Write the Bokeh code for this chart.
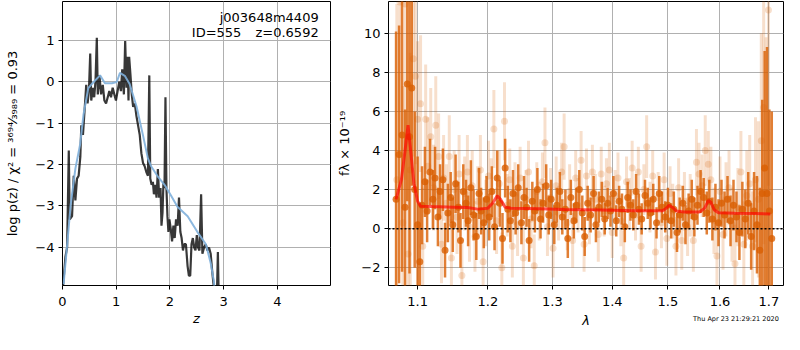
import numpy as np
from bokeh.plotting import figure
from bokeh.layouts import row
from bokeh.models import FixedTicker, Label, Span, ColumnDataSource, Range1d, LogAxis
from bokeh.embed import file_html
from bokeh.resources import INLINE

FONT = "DejaVu Sans"

# ---------------- left panel: log p(z) ----------------
pz_z = [0.012, 0.055, 0.086, 0.117, 0.135, 0.178, 0.209, 0.240, 0.270, 0.301,
        0.332, 0.350, 0.381, 0.412, 0.442, 0.467, 0.492, 0.516, 0.535, 0.565,
        0.590, 0.614, 0.639, 0.657, 0.688, 0.719, 0.750, 0.780, 0.811, 0.842,
        0.872, 0.903, 0.934, 0.965, 0.995, 1.026, 1.057, 1.088, 1.112, 1.143,
        1.167, 1.192, 1.210, 1.229, 1.241, 1.266, 1.290, 1.315, 1.346, 1.376,
        1.407, 1.438, 1.469, 1.499, 1.530, 1.561, 1.591, 1.616, 1.634, 1.659,
        1.683, 1.702, 1.727, 1.751, 1.776, 1.800, 1.825, 1.843, 1.862, 1.880,
        1.899, 1.917, 1.935, 1.954, 1.972, 1.991, 2.015, 2.040, 2.065, 2.089,
        2.114, 2.144, 2.169, 2.194, 2.218, 2.243, 2.267, 2.298, 2.329, 2.353,
        2.378, 2.402, 2.427, 2.452, 2.476, 2.501, 2.525, 2.550, 2.581, 2.605,
        2.636, 2.667, 2.697, 2.728, 2.759, 2.789, 2.814, 2.860, 2.893, 2.920]
pz_logp = [-4.92, -4.23, -4.01, -1.66, -3.33, -3.25, -2.27, -2.87, -2.34, -2.27,
           -1.81, -1.05, -1.28, -0.67, -0.07, -0.52, -0.22, 0.69, -0.45, -0.14,
           -0.37, 0.01, 1.07, -0.30, 0.16, -0.30, -0.07, -0.45, -0.52, -0.37,
           -0.22, -0.37, -0.14, -0.30, -0.45, -0.22, 0.01, -0.22, 0.31, -0.30,
           0.99, -0.14, 0.61, -0.45, 0.61, 0.16, -0.30, -0.60, -0.52, -0.82,
           -1.05, -1.28, -1.73, -1.96, -2.04, -2.18, -2.27, 0.16, -2.34, -2.49,
           -2.42, -2.72, -2.49, -2.80, -2.11, -2.80, -2.57, -3.48, -3.17, -2.42,
           -2.57, -0.37, -2.57, -3.25, -3.63, -3.33, -3.55, -3.86, -3.48, -3.78,
           -3.33, -3.48, -2.80, -3.63, -3.78, -4.08, -3.93, -3.93, -4.46, -4.69,
           -4.69, -3.93, -3.78, -4.01, -4.08, -3.71, -4.01, -4.08, -2.72, -4.16,
           -4.01, -3.93, -4.08, -4.01, -4.16, -4.61, -4.92, -6.00, -4.12, -6.00]

sm_z = [0.02, 0.09, 0.15, 0.24, 0.33, 0.39, 0.48, 0.58, 0.70, 0.79, 0.92, 1.01,
        1.07, 1.16, 1.25, 1.38, 1.50, 1.59, 1.65, 1.78, 1.90, 2.02, 2.14, 2.33,
        2.51, 2.67, 2.76, 2.82, 2.86]
sm_logp = [-4.9, -3.9, -3.0, -2.1, -1.5, -0.8, -0.15, 0.0, 0.16, -0.03, -0.03, 0.0,
           0.22, 0.15, -0.05, -0.6, -1.3, -1.85, -2.04, -2.3, -2.49, -2.75, -3.02, -3.25,
           -3.63, -3.93, -4.39, -4.84, -5.5]

left_xticks = [0, 1, 2, 3, 4]
left_yticks = [-4, -3, -2, -1, 0, 1]

title_name = "j003648m4409"
title_id = "ID=555"
title_z = "z=0.6592"

# ---------------- right panel: spectrum ----------------
wave_a = [1.071, 1.075, 1.079, 1.083, 1.086, 1.089, 1.092, 1.096, 1.100, 1.103,
          1.106, 1.110, 1.113, 1.117, 1.121, 1.124, 1.128, 1.131, 1.135, 1.138,
          1.142, 1.146, 1.149, 1.153, 1.157, 1.160, 1.164, 1.168, 1.171, 1.175,
          1.179, 1.183, 1.187, 1.190, 1.194, 1.198, 1.202, 1.206, 1.210, 1.214,
          1.218, 1.222, 1.226, 1.230, 1.234, 1.238, 1.242, 1.246, 1.251, 1.255,
          1.259, 1.263, 1.268, 1.272, 1.276, 1.281, 1.285, 1.290, 1.294, 1.298,
          1.303, 1.307, 1.312, 1.316, 1.321, 1.325, 1.330, 1.335, 1.339, 1.344,
          1.349, 1.353, 1.358, 1.363, 1.368, 1.372, 1.377, 1.382, 1.387, 1.392,
          1.397, 1.402, 1.407, 1.412, 1.417, 1.422, 1.427, 1.432, 1.437, 1.442,
          1.447, 1.452, 1.458, 1.463, 1.468, 1.473, 1.479, 1.484, 1.489, 1.495,
          1.500, 1.506, 1.511, 1.517, 1.522, 1.528, 1.533, 1.539, 1.545, 1.550,
          1.556, 1.562, 1.568, 1.574, 1.579, 1.585, 1.591, 1.597, 1.603, 1.609,
          1.615, 1.621, 1.627, 1.633, 1.639, 1.645, 1.651, 1.657, 1.663, 1.669,
          1.675, 1.681, 1.686, 1.691, 1.696, 1.701, 1.706]
flux_a = [1.5, 3.8, 4.8, 1.1, 7.4, 4.7, 7.2, 2.0, 0.2, -1.7,
          1.2, 2.4, 0.9, 2.9, 1.5, 2.6, 0.6, 1.9, 2.5, -1.1,
          0.8, 1.6, 0.2, 2.3, 1.1, -0.6, 1.9, 1.3, 0.4, 2.1,
          0.7, -0.4, 1.8, 0.9, 0.3, 1.5, 0.6, 1.9, 0.1, 2.6,
          1.3, -0.5, 3.1, 1.0, 0.4, 1.8, 0.8, 2.1, 0.3, 1.6,
          1.1, -0.6, 1.4, 0.9, 2.0, 0.5, 1.3, 2.2, 0.7, 1.5,
          0.2, 1.2, 1.9, 0.6, 1.0, -0.5, 1.6, 0.4, 1.2, 2.0,
          0.8, -0.4, 1.3, 0.7, 1.8, 0.2, 1.1, 1.5, 0.5, 1.3,
          0.9, 1.8, 0.4, 1.4, 1.0, 0.1, 1.6, 1.2, 0.7, 1.9,
          1.0, 0.5, 1.7, 1.3, 0.8, 1.5, 0.3, 1.8, 1.1, 0.6,
          1.2, 0.4, 1.0, -0.2, 0.7, 1.3, 0.2, 0.9, 1.5, 0.6,
          1.2, 1.9, 1.6, 0.8, 1.4, 0.5, 1.1, 0.3, 1.3, 0.7,
          1.5, 0.4, 1.2, 0.6, -0.2, 1.0, 0.5, 1.3, -0.4, 0.9,
          0.2, -1.1, 1.8, 3.1, 1.8, 0.9, -0.5]
err_a = [8.6, 6.6, 7.0, 5.0, 6.0, 7.0, 5.0, 4.0, 3.5, 3.0,
         2.0, 1.8, 1.6, 1.7, 1.5, 1.6, 1.5, 1.4, 1.6, 1.4,
         1.5, 1.3, 1.4, 1.5, 1.3, 1.4, 1.4, 1.2, 1.3, 1.4,
         1.3, 1.2, 1.3, 1.2, 1.3, 1.2, 1.2, 1.3, 1.2, 1.4,
         1.2, 1.3, 1.5, 1.2, 1.1, 1.2, 1.1, 1.2, 1.1, 1.1,
         1.0, 1.1, 1.0, 1.1, 1.1, 1.0, 1.0, 1.1, 1.0, 1.0,
         1.0, 0.9, 1.0, 0.9, 1.0, 1.0, 0.9, 0.9, 0.9, 1.0,
         0.9, 1.0, 0.9, 0.9, 0.9, 0.9, 0.8, 0.9, 0.8, 0.8,
         0.8, 0.9, 0.8, 0.8, 0.8, 0.8, 0.8, 0.8, 0.8, 0.9,
         0.8, 0.8, 0.8, 0.8, 0.8, 0.8, 0.8, 0.9, 0.8, 0.8,
         0.9, 0.9, 0.9, 1.0, 0.9, 0.9, 1.0, 0.9, 1.0, 1.0,
         1.0, 1.1, 1.0, 1.1, 1.1, 1.1, 1.2, 1.2, 1.2, 1.2,
         1.2, 1.3, 1.3, 1.3, 1.4, 1.4, 1.5, 1.6, 1.7, 2.0,
         2.5, 3.2, 4.8, 6.0, 7.5, 5.2, 6.5]

wave_b = [1.072, 1.076, 1.080, 1.083, 1.087, 1.090, 1.094, 1.097, 1.100, 1.104,
          1.107, 1.111, 1.114, 1.118, 1.122, 1.125, 1.129, 1.133, 1.136, 1.140,
          1.144, 1.147, 1.151, 1.155, 1.158, 1.162, 1.166, 1.170, 1.173, 1.177,
          1.181, 1.185, 1.189, 1.193, 1.197, 1.201, 1.205, 1.209, 1.213, 1.217,
          1.221, 1.225, 1.229, 1.233, 1.237, 1.241, 1.245, 1.249, 1.254, 1.258,
          1.262, 1.266, 1.271, 1.275, 1.279, 1.284, 1.288, 1.292, 1.297, 1.301,
          1.306, 1.310, 1.315, 1.319, 1.324, 1.328, 1.333, 1.338, 1.342, 1.347,
          1.352, 1.356, 1.361, 1.366, 1.371, 1.376, 1.381, 1.386, 1.390, 1.395,
          1.400, 1.405, 1.410, 1.415, 1.420, 1.425, 1.430, 1.435, 1.441, 1.446,
          1.451, 1.456, 1.461, 1.467, 1.472, 1.477, 1.482, 1.488, 1.493, 1.498,
          1.504, 1.509, 1.515, 1.520, 1.526, 1.531, 1.537, 1.542, 1.548, 1.554,
          1.559, 1.565, 1.571, 1.577, 1.582, 1.588, 1.594, 1.600, 1.606, 1.612,
          1.618, 1.624, 1.630, 1.636, 1.642, 1.648, 1.654, 1.660, 1.666, 1.672,
          1.678, 1.684, 1.689, 1.694, 1.699]
flux_b = [2.5, 11.6, 0.3, 11.5, -1.3, 3.0, 8.7, 7.8, 5.6, 6.4,
          -0.9, 5.6, 3.2, 4.7, 2.1, 5.3, 3.7, -0.8, 2.6, 1.3,
          3.7, -1.5, 2.0, 0.6, 2.8, -2.4, 1.8, 2.9, 0.1, 2.2,
          -0.4, 1.4, 3.0, -1.7, 0.8, 2.7, 1.9, 5.1, 0.4, 2.3,
          -2.0, 5.5, 1.2, 2.5, -0.9, 1.8, 0.2, 2.6, -1.5, 1.5,
          2.9, 0.5, -1.9, 1.9, 0.9, 2.4, 4.4, 0.1, 1.6, -1.0,
          2.2, 0.8, 2.9, 4.2, 0.3, 1.9, -0.6, 2.6, 1.2, 3.5,
          -0.8, 2.7, 0.6, 2.9, 1.5, -0.3, 2.8, 0.9, 2.3, 3.0,
          -0.2, 1.7, 2.6, 0.4, -1.5, 2.4, 1.3, 3.1, 0.7, 2.9,
          -0.9, 2.0, 4.2, 1.1, 2.7, -1.2, 1.6, 0.3, 2.5, -0.5,
          1.8, 0.9, -0.9, 2.1, -0.6, 1.4, 0.1, 1.2, -0.6, 3.4,
          2.8, 2.2, 4.0, 3.3, 2.5, 0.4, -1.4, 1.9, -0.3, 1.5,
          2.1, 0.2, -1.8, 1.1, 2.9, -0.8, 1.7, 2.3, -0.9, 2.5,
          1.5, 4.5, 6.2, 1.8, 11.2]
err_b = [9.0, 8.0, 7.0, 9.0, 6.0, 6.0, 5.0, 4.5, 4.0, 3.5,
         3.0, 2.8, 2.5, 2.5, 2.2, 2.5, 2.2, 2.0, 2.2, 2.0,
         2.1, 2.0, 2.0, 1.9, 2.0, 1.9, 1.9, 1.9, 1.8, 1.8,
         1.8, 1.8, 1.8, 1.8, 1.7, 1.8, 1.7, 2.0, 1.7, 1.7,
         1.8, 2.0, 1.6, 1.6, 1.6, 1.6, 1.6, 1.6, 1.6, 1.5,
         1.6, 1.5, 1.6, 1.5, 1.5, 1.5, 1.8, 1.5, 1.5, 1.5,
         1.5, 1.4, 1.5, 1.7, 1.4, 1.4, 1.4, 1.4, 1.4, 1.5,
         1.4, 1.4, 1.4, 1.4, 1.3, 1.4, 1.4, 1.3, 1.3, 1.4,
         1.3, 1.3, 1.3, 1.3, 1.4, 1.3, 1.3, 1.4, 1.3, 1.3,
         1.3, 1.3, 1.6, 1.3, 1.3, 1.4, 1.3, 1.3, 1.4, 1.4,
         1.4, 1.4, 1.5, 1.5, 1.5, 1.5, 1.5, 1.6, 1.6, 1.7,
         1.6, 1.6, 1.8, 1.7, 1.7, 1.7, 1.8, 1.8, 1.8, 1.9,
         1.9, 1.9, 2.0, 2.0, 2.1, 2.2, 2.3, 2.5, 2.8, 3.2,
         4.0, 5.5, 7.0, 8.0, 9.0]

model_wave = [1.071, 1.078, 1.083, 1.087, 1.090, 1.095, 1.100, 1.104, 1.120, 1.150,
              1.170, 1.185, 1.200, 1.207, 1.214, 1.219, 1.226, 1.235, 1.280, 1.320,
              1.380, 1.440, 1.490, 1.497, 1.502, 1.508, 1.516, 1.530, 1.560, 1.570,
              1.577, 1.582, 1.589, 1.597, 1.630, 1.670, 1.703]
model_flux = [1.5, 2.5, 4.0, 5.3, 4.2, 2.3, 1.4, 1.15, 1.13, 1.10,
              1.08, 1.00, 1.05, 1.30, 1.68, 1.50, 1.10, 1.05, 1.02, 0.98,
              0.95, 0.92, 0.92, 1.05, 1.20, 1.10, 0.90, 0.85, 0.85, 1.05,
              1.45, 1.35, 0.95, 0.82, 0.79, 0.77, 0.75]

right_xticks = [1.1, 1.2, 1.3, 1.4, 1.5, 1.6, 1.7]
right_yticks = [-2, 0, 2, 4, 6, 8, 10]
timestamp = "Thu Apr 23 21:29:21 2020"
TS_POS = 1.632   # horizontal anchor (centre) of the timestamp, in wavelength units

ORANGE = "#d95f02"


def style(p):
    p.outline_line_color = "black"
    p.outline_line_width = 1
    p.outline_line_alpha = 1
    p.background_fill_color = "white"
    p.border_fill_color = "white"
    for ax in p.axis:
        ax.axis_line_color = None
        ax.major_tick_in = 0
        ax.major_tick_out = 4
        ax.major_tick_line_color = "black"
        ax.minor_tick_line_color = None
        ax.major_label_text_font = FONT
        ax.major_label_text_font_size = "13px"
        ax.major_label_text_color = "black"
        ax.axis_label_text_font = FONT
        ax.axis_label_text_font_size = "13px"
        ax.axis_label_text_color = "black"
        ax.major_label_standoff = 4
    for g in p.grid:
        g.grid_line_color = "#b0b0b0"
        g.grid_line_width = 1
        g.grid_line_alpha = 1


def minus_labels(ticks, fmt):
    out = {}
    for t in ticks:
        s = fmt.format(t)
        out[t] = s.replace("-", "\u2212")
    return out


H = 330
BOTTOM = 44

# ---- left figure ----
p1 = figure(width=333, height=H, x_range=Range1d(0, 4.99), y_range=Range1d(-4.93, 1.95),
            output_backend="svg", toolbar_location=None,
            min_border_left=62, min_border_right=3, min_border_top=1, min_border_bottom=BOTTOM)
style(p1)
p1.xaxis.ticker = FixedTicker(ticks=left_xticks)
p1.yaxis.ticker = FixedTicker(ticks=left_yticks)
p1.xaxis.major_label_overrides = minus_labels(left_xticks, "{:d}")
p1.yaxis.major_label_overrides = minus_labels(left_yticks, "{:d}")
p1.xaxis.major_label_standoff = 7
p1.xaxis.axis_label = "z"
p1.xaxis.axis_label_text_font_style = "italic"
p1.xaxis.axis_label_standoff = 2
p1.yaxis.axis_label = "log p(z) / \u03c7\u00b2 = \u00b3\u2076\u2079\u2074\u2044\u2083\u2089\u2088\u2089 = 0.93"
p1.yaxis.axis_label_text_font_style = "normal"
p1.yaxis.axis_label_standoff = 12

p1.line(pz_z, pz_logp, line_color="black", line_alpha=0.78, line_width=2.2)
p1.line(sm_z, sm_logp, line_color="#7fb0db", line_alpha=0.9, line_width=2)

for txt, xx, yy in [(title_name, 4.77, 1.56), (title_id, 3.33, 1.19), (title_z, 4.77, 1.19)]:
    p1.add_layout(Label(x=xx, y=yy, text=txt, text_align="right", text_baseline="middle",
                        text_font=FONT, text_font_size="13px", text_color="black"))

# ---- right figure ----
p2 = figure(width=451, height=H, x_axis_type="log",
            x_range=Range1d(1.061, 1.731), y_range=Range1d(-2.91, 11.63),
            output_backend="svg", toolbar_location=None,
            min_border_left=55, min_border_right=1, min_border_top=1, min_border_bottom=BOTTOM)
style(p2)
xax = p2.xaxis[0]
yax = p2.yaxis[0]
xax.ticker = FixedTicker(ticks=right_xticks)
yax.ticker = FixedTicker(ticks=right_yticks)
xax.major_label_overrides = {t: "{:.1f}".format(t) for t in right_xticks}
yax.major_label_overrides = minus_labels(right_yticks, "{:d}")
xax.major_label_standoff = 7
yax.axis_label = "f\u03bb \u00d7 10\u207b\u00b9\u2079"
yax.axis_label_text_font_style = "normal"
yax.axis_label_standoff = 6

# second bottom axis: carries the timestamp (as its only tick label) and the lambda label
ax2 = LogAxis(ticker=FixedTicker(ticks=[TS_POS]),
              major_label_overrides={TS_POS: timestamp},
              axis_line_color=None, major_tick_line_color=None,
              major_tick_in=0, major_tick_out=0, minor_tick_line_color=None,
              major_label_text_font=FONT, major_label_text_font_size="6.5px",
              major_label_text_color="black", major_label_standoff=6,
              axis_label="\u03bb", axis_label_text_font=FONT,
              axis_label_text_font_size="13px", axis_label_text_font_style="italic",
              axis_label_text_color="black", axis_label_standoff=-13)
p2.add_layout(ax2, "below")

wa = np.array(wave_a); fa = np.array(flux_a); ea = np.array(err_a)
wb = np.array(wave_b); fb = np.array(flux_b); eb = np.array(err_b)
src_a = ColumnDataSource(dict(w=wa, f=fa, lo=fa - ea, hi=fa + ea))
src_b = ColumnDataSource(dict(w=wb, f=fb, lo=fb - eb, hi=fb + eb))

p2.segment(x0="w", y0="lo", x1="w", y1="hi", source=src_b,
           line_color=ORANGE, line_alpha=0.2, line_width=3)
p2.scatter(x="w", y="f", source=src_b, size=7, fill_color=ORANGE, fill_alpha=0.2,
           line_color=None)
p2.segment(x0="w", y0="lo", x1="w", y1="hi", source=src_a,
           line_color=ORANGE, line_alpha=0.8, line_width=2.5)
p2.scatter(x="w", y="f", source=src_a, size=7, fill_color=ORANGE, fill_alpha=0.8,
           line_color=None)
p2.line(model_wave, model_flux, line_color="red", line_alpha=0.65, line_width=3)
p2.add_layout(Span(location=0, dimension="width", line_color="black", line_width=1.5,
                   line_dash="2 2"))

layout = row(p1, p2)
open("out.html", "w").write(file_html(layout, INLINE))
